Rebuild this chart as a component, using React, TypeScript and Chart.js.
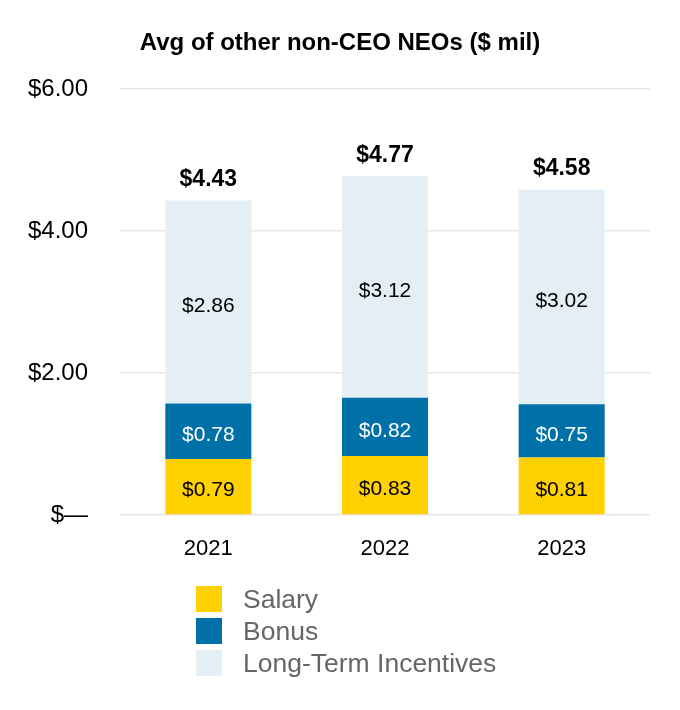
import React, { useEffect, useRef } from "react";
import { Chart, registerables } from "chart.js";

Chart.register(...registerables);

const categories = ["2021", "2022", "2023"];
const salary = [0.79, 0.83, 0.81];
const bonus = [0.78, 0.82, 0.75];
const longTerm = [2.86, 3.12, 3.02];
const totals = [4.43, 4.77, 4.58];
const yTicks = [0, 2, 4, 6];
const seriesNames = ["Salary", "Bonus", "Long-Term Incentives"];
const seriesColors = ["#FFD100", "#0070A9", "#E3EFF4"];
const labelColors = ["#000000", "#FFFFFF", "#000000"];
const titleText = "Avg of other non-CEO NEOs ($ mil)";

const FONT = "'Liberation Sans', Arial, sans-serif";

const fmt = (v: number) => (v === 0 ? "$\u2014" : "$" + v.toFixed(2));

const labelsPlugin = {
  id: "segLabels",
  afterDatasetsDraw(chart: any) {
    const ctx = chart.ctx;
    ctx.save();
    ctx.textAlign = "center";
    ctx.textBaseline = "middle";
    chart.data.datasets.forEach((ds: any, di: number) => {
      const meta = chart.getDatasetMeta(di);
      meta.data.forEach((el: any, i: number) => {
        const v = ds.data[i];
        const yMid = (el.y + el.base) / 2 + 4;
        ctx.font = `21px ${FONT}`;
        ctx.fillStyle = labelColors[di];
        ctx.fillText(fmt(v), el.x, yMid);
        if (di === chart.data.datasets.length - 1) {
          ctx.font = `bold 23px ${FONT}`;
          ctx.fillStyle = "#000000";
          ctx.fillText(fmt(totals[i]), el.x, el.y - 21);
        }
      });
    });
    ctx.restore();
  },
};

const titleLegendPlugin = {
  id: "titleLegend",
  afterDraw(chart: any) {
    const ctx = chart.ctx;
    const area = chart.chartArea;
    ctx.save();
    ctx.textAlign = "center";
    ctx.textBaseline = "middle";
    ctx.fillStyle = "#000000";
    ctx.font = `bold 24px ${FONT}`;
    ctx.fillText(titleText, chart.width / 2, 35);

    const x0 = area.left + 76;
    const y0 = area.bottom + 71;
    ctx.textAlign = "left";
    ctx.font = `26.5px ${FONT}`;
    chart.data.datasets.forEach((ds: any, i: number) => {
      const y = y0 + i * 32;
      ctx.fillStyle = ds.backgroundColor;
      ctx.fillRect(x0, y, 26, 26);
      ctx.fillStyle = "#666666";
      ctx.fillText(ds.label, x0 + 47, y + 15);
    });
    ctx.restore();
  },
};

export default function App() {
  const ref = useRef<HTMLCanvasElement | null>(null);
  useEffect(() => {
    if (!ref.current) return;
    const chart = new Chart(ref.current, {
      type: "bar",
      data: {
        labels: categories,
        datasets: [salary, bonus, longTerm].map((d, i) => ({
          label: seriesNames[i],
          data: d,
          backgroundColor: seriesColors[i],
          borderWidth: 0,
          barPercentage: 0.487,
          categoryPercentage: 1,
        })),
      },
      options: {
        animation: false,
        responsive: true,
        maintainAspectRatio: false,
        layout: { padding: { left: 0, right: 22, top: 81, bottom: 0 } },
        plugins: {
          legend: { display: false },
          tooltip: { enabled: false },
          title: { display: false },
        },
        scales: {
          x: {
            stacked: true,
            grid: { display: false, drawTicks: false },
            border: { display: false },
            ticks: {
              color: "#000000",
              font: { family: FONT, size: 22 },
              padding: 21,
            },
            afterFit: (s: any) => {
              s.height = 187;
            },
          },
          y: {
            stacked: true,
            min: 0,
            max: 6,
            afterBuildTicks: (s: any) => {
              s.ticks = yTicks.map((v) => ({ value: v }));
            },
            grid: { color: "#E6E6E6", lineWidth: 1.5, drawTicks: false },
            border: { display: false },
            ticks: {
              color: "#000000",
              font: { family: FONT, size: 24 },
              padding: 32,
              callback: (v: any) => fmt(Number(v)),
            },
            afterFit: (s: any) => {
              s.width = 112;
            },
          },
        },
      },
      plugins: [labelsPlugin, titleLegendPlugin],
    });
    return () => chart.destroy();
  }, []);
  return (
    <div style={{ width: 664, height: 694, position: "relative" }}>
      <canvas ref={ref} />
    </div>
  );
}
